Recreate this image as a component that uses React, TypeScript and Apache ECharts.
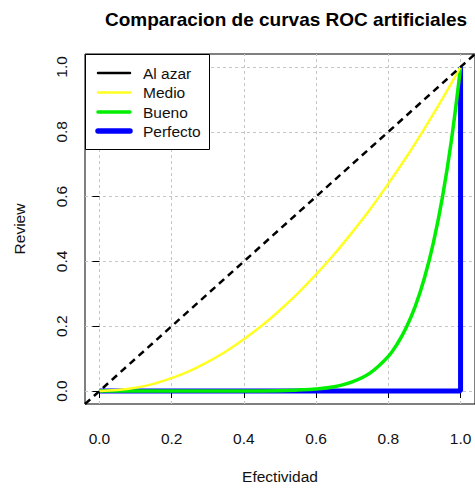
import React, { useEffect, useRef } from "react";
import * as echarts from "echarts";

const TITLE = "Comparacion de curvas ROC artificiales";
const X_NAME = "Efectividad";
const Y_NAME = "Review";
const TICKS = [0, 0.2, 0.4, 0.6, 0.8, 1.0];

const AZAR_X = [-0.04, 1.04];
const AZAR_Y = [-0.04, 1.04];

const MEDIO_X = [0, 0.05, 0.1, 0.15, 0.2, 0.25, 0.3, 0.35, 0.4, 0.45, 0.5, 0.55, 0.6, 0.65, 0.7, 0.75, 0.8, 0.85, 0.9, 0.95, 1.0];
const MEDIO_Y = [0, 0.003, 0.01, 0.022, 0.04, 0.062, 0.09, 0.122, 0.16, 0.202, 0.25, 0.302, 0.36, 0.422, 0.49, 0.562, 0.64, 0.722, 0.81, 0.902, 1.0];

const BUENO_X = [0, 0.1, 0.2, 0.3, 0.4, 0.5, 0.55, 0.6, 0.65, 0.7, 0.75, 0.8, 0.825, 0.85, 0.875, 0.9, 0.925, 0.95, 0.975, 1.0];
const BUENO_Y = [0, 0, 0, 0, 0, 0.001, 0.003, 0.006, 0.013, 0.028, 0.056, 0.107, 0.146, 0.197, 0.263, 0.349, 0.459, 0.599, 0.776, 1.0];

const PERFECTO_X = [0, 1, 1];
const PERFECTO_Y = [0, 0, 1];

const LEGEND_NAMES = ["Al azar", "Medio", "Bueno", "Perfecto"];
const LEGEND_COLORS = ["#000000", "#ffff22", "#00ee00", "#0000ff"];
const LEGEND_WIDTHS = [2.5, 2.5, 3.5, 5.5];

const zip = (xs: number[], ys: number[]) => xs.map((x, i) => [x, ys[i]]);

const FONT = "Liberation Sans, Arial, Helvetica, sans-serif";

export default function App() {
  const ref = useRef<HTMLDivElement>(null);
  useEffect(() => {
    if (!ref.current) return;
    const chart = echarts.init(ref.current, undefined, { renderer: "svg" });
    const gridLine = { color: "#c6c6c6", width: 1, type: [3, 3] as any };
    const legendGraphics: any[] = [
      {
        type: "rect",
        shape: { x: 85.5, y: 54.5, width: 124, height: 95 },
        style: { fill: "#fff", stroke: "#000", lineWidth: 1 },
        z: 100,
      },
    ];
    const rowY = [73, 92.5, 112, 131];
    LEGEND_NAMES.forEach((n, i) => {
      legendGraphics.push({
        type: "line",
        shape: { x1: 98, y1: rowY[i], x2: 130, y2: rowY[i] },
        style: { stroke: LEGEND_COLORS[i], lineWidth: LEGEND_WIDTHS[i], lineCap: "round" },
        z: 101,
      });
      legendGraphics.push({
        type: "text",
        x: 143,
        y: rowY[i],
        style: { text: n, fontSize: 15.5, fontFamily: FONT, fill: "#111", verticalAlign: "middle", textAlign: "left" },
        z: 101,
      });
    });

    chart.setOption({
      animation: false,
      backgroundColor: "#fff",
      title: {
        text: TITLE,
        left: 281,
        top: 5,
        textAlign: "center",
        textStyle: { fontSize: 19, fontWeight: "bold", fontFamily: FONT, color: "#000" },
      },
      grid: {
        left: 85,
        top: 54,
        right: -2,
        bottom: 80,
        show: true,
        borderColor: "#000",
        borderWidth: 1,
        backgroundColor: "transparent",
        containLabel: false,
      },
      xAxis: {
        type: "value",
        min: -0.04,
        max: 1.04,
        name: X_NAME,
        nameLocation: "middle",
        nameGap: 64,
        nameTextStyle: { fontSize: 15.5, fontFamily: FONT, color: "#111" },
        axisLine: { show: false },
        axisTick: { show: true, length: 7, customValues: TICKS, lineStyle: { color: "#000" } },
        axisLabel: {
          customValues: TICKS,
          formatter: (v: number) => v.toFixed(1),
          fontSize: 15.5,
          fontFamily: FONT,
          color: "#111",
          margin: 26,
        },
        splitLine: { show: false },
      },
      yAxis: {
        type: "value",
        min: -0.04,
        max: 1.04,
        name: Y_NAME,
        nameLocation: "middle",
        nameGap: 58,
        nameTextStyle: { fontSize: 15.5, fontFamily: FONT, color: "#111" },
        axisLine: { show: false },
        axisTick: { show: true, length: 7, customValues: TICKS, lineStyle: { color: "#000" } },
        axisLabel: {
          customValues: TICKS,
          formatter: (v: number) => v.toFixed(1),
          fontSize: 15.5,
          fontFamily: FONT,
          color: "#111",
          rotate: 90,
          margin: 16,
        },
        splitLine: { show: false },
      },
      series: [
        {
          name: "grid",
          type: "line",
          data: [],
          silent: true,
          z: 0,
          markLine: {
            z: 0,
            silent: true,
            symbol: ["none", "none"],
            label: { show: false },
            lineStyle: gridLine,
            emphasis: { disabled: true },
            data: [
              ...TICKS.map((t) => ({ xAxis: t })),
              ...TICKS.map((t) => ({ yAxis: t })),
            ],
          },
        },
        {
          name: LEGEND_NAMES[3],
          type: "line",
          data: zip(PERFECTO_X, PERFECTO_Y),
          symbol: "none",
          lineStyle: { color: LEGEND_COLORS[3], width: 5 },
          z: 2,
        },
        {
          name: LEGEND_NAMES[2],
          type: "line",
          data: zip(BUENO_X, BUENO_Y),
          symbol: "none",
          smooth: 0.4,
          lineStyle: { color: LEGEND_COLORS[2], width: 3.5 },
          z: 3,
        },
        {
          name: LEGEND_NAMES[1],
          type: "line",
          data: zip(MEDIO_X, MEDIO_Y),
          symbol: "none",
          smooth: 0.4,
          lineStyle: { color: LEGEND_COLORS[1], width: 2.5 },
          z: 4,
        },
        {
          name: LEGEND_NAMES[0],
          type: "line",
          data: zip(AZAR_X, AZAR_Y),
          symbol: "none",
          lineStyle: { color: LEGEND_COLORS[0], width: 2.5, type: [7, 5] as any },
          z: 5,
        },
      ],
      graphic: legendGraphics,
    });
    return () => chart.dispose();
  }, []);
  return (
    <div
      ref={ref}
      style={{ position: "fixed", left: 0, top: 0, width: 475, height: 489, background: "#fff" }}
    />
  );
}
